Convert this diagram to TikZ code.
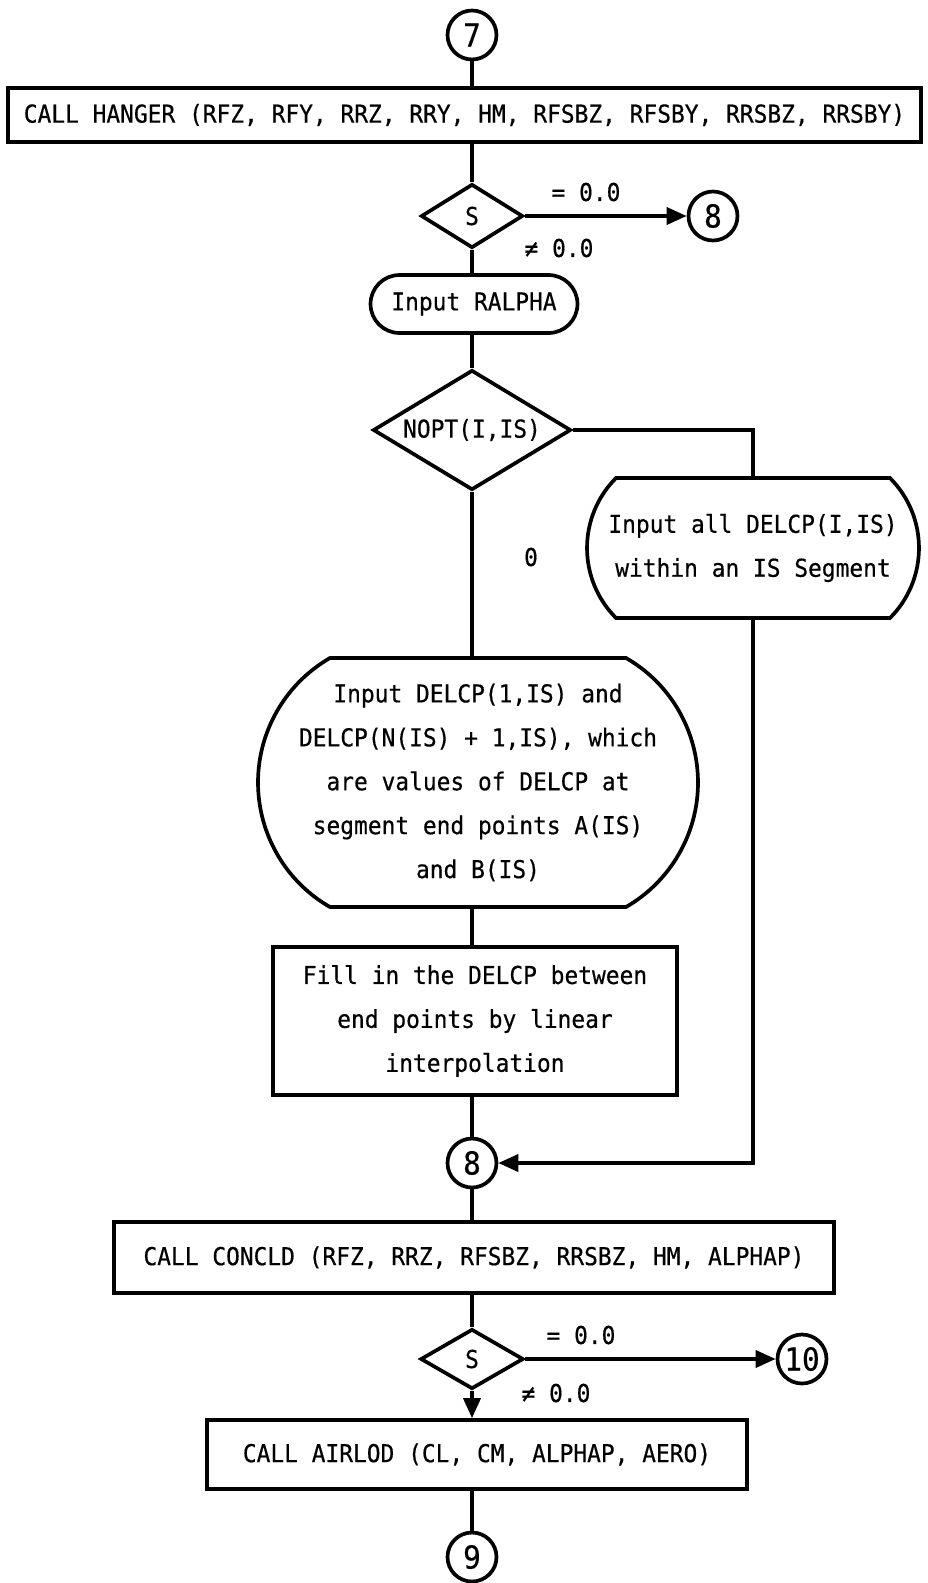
\documentclass[tikz,border=0pt]{standalone}
\usepackage{fontspec}
\setmainfont{DejaVu Sans Mono}[FakeStretch=0.93,FakeBold=0.5]
\usetikzlibrary{shapes.geometric,shapes.misc,arrows.meta}
\newcommand{\midline}[1]{\makebox[0pt]{#1}}

\begin{document}
\begin{tikzpicture}[x=0.02cm,y=-0.02cm,line width=2.1pt,
                    >={Triangle[length=0.4cm,width=0.34cm]},
                    font=\fontsize{14pt}{25pt}\selectfont,
                    box node/.style={rectangle,draw,inner sep=2pt,align=center},
                    round node/.style={rounded rectangle,draw,inner sep=0pt,align=center},
                    test node/.style={diamond,draw,inner sep=0pt},
                    connector node/.style={circle,draw,minimum size=0.98cm,inner sep=0pt,font=\fontsize{18pt}{18pt}\selectfont}]

\useasboundingbox (0,0) rectangle (927,1583);

%DRAWING upper part

  \node[connector node] (Connect7) at (472,35) {7};
  \node[box node,minimum width=18.26cm,minimum height=1.08cm] (Hanger) at (464.5,115) {CALL HANGER (RFZ, RFY, RRZ, RRY, HM, RFSBZ, RFSBY, RRSBZ, RRSBY)};

  \node[test node,minimum width=2.04cm,minimum height=1.28cm] (TestS1) at (472,216) {S};
  \node[connector node] (Connect8A) at (713,216) {8};
  \node (EqualA) at (586,192) {= 0.0};
  \node (NotEqualA) at (559,248) {≠ 0.0};

  \node[round node,minimum width=4.14cm,minimum height=1.16cm] (InputRalpha) at (474,304) {\midline{Input RALPHA}};

  \node[test node,aspect=1.65,minimum width=3.96cm,minimum height=2.4cm] (NoptTest) at (472,430) {NOPT(I,IS)};

%Inserting the two input branches

  \node[round node,rounded rectangle arc length=90,minimum width=6.64cm,minimum height=2.8cm] (InputAll) at (753,548) {\midline{Input all DELCP(I,IS)}\\\midline{within an IS Segment}};
  \node (ZeroLabel) at (531,557) {0};

  \node[round node,rounded rectangle arc length=120,minimum width=8.8cm,minimum height=4.98cm] (InputEnds) at (478,782.5) {\midline{Input DELCP(1,IS) and}\\\midline{DELCP(N(IS) + 1,IS), which}\\\midline{are values of DELCP at}\\\midline{segment end points A(IS)}\\\midline{and B(IS)}};

  \node[box node,minimum width=8.08cm,minimum height=2.96cm] (FillIn) at (475,1021) {Fill in the DELCP between\\end points by linear\\interpolation};

%DRAWING lower part

  \node[connector node] (Connect8B) at (472,1163) {8};
  \node[box node,minimum width=14.4cm,minimum height=1.42cm] (Concld) at (474,1257.5) {CALL CONCLD (RFZ, RRZ, RFSBZ, RRSBZ, HM, ALPHAP)};

  \node[test node,minimum width=2.06cm,minimum height=1.2cm] (TestS2) at (472,1359) {S};
  \node[connector node] (Connect10) at (802,1359) {10};
  \node (EqualB) at (581,1335) {= 0.0};
  \node (NotEqualB) at (556,1393) {≠ 0.0};

  \node[box node,minimum width=10.8cm,minimum height=1.38cm] (Airlod) at (477,1454.5) {CALL AIRLOD (CL, CM, ALPHAP, AERO)};
  \node[connector node] (Connect9) at (472,1557) {9};

%Connectors

  \draw (Connect7) -- (Connect7 |- Hanger.north);
  \draw (Hanger.south -| TestS1) -- (TestS1);
  \draw[->] (TestS1) -- (Connect8A);
  \draw (TestS1) -- (TestS1 |- InputRalpha.north);
  \draw (TestS1 |- InputRalpha.south) -- (NoptTest);
  \draw (NoptTest) -- (NoptTest |- InputEnds.north);
  \draw (NoptTest.east) -| (InputAll.north);
  \draw (NoptTest |- InputEnds.south) -- (NoptTest |- FillIn.north);
  \draw (NoptTest |- FillIn.south) -- (Connect8B);
  \draw[->] (InputAll.south) |- (Connect8B);
  \draw (Connect8B) -- (Connect8B |- Concld.north);
  \draw (Concld.south -| TestS2) -- (TestS2);
  \draw[->] (TestS2) -- (Connect10);
  \draw[->] (TestS2) -- (TestS2 |- Airlod.north);
  \draw (Airlod.south -| Connect9) -- (Connect9);

\end{tikzpicture}
\end{document}
